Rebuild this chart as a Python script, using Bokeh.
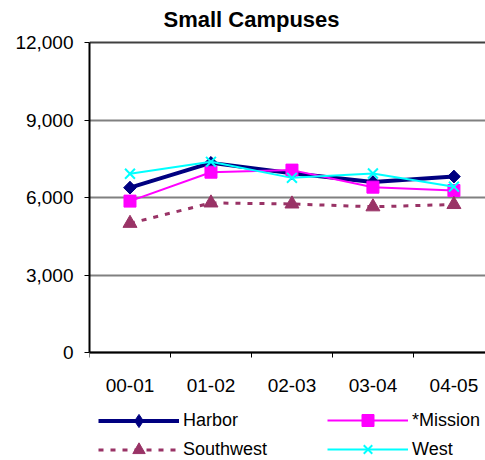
import math
from bokeh.plotting import figure
from bokeh.models import Range1d, FixedTicker, Legend, LegendItem, NumeralTickFormatter, Label
from bokeh.embed import file_html
from bokeh.resources import INLINE

categories = ["00-01", "01-02", "02-03", "03-04", "04-05"]
harbor = [6380, 7340, 6940, 6600, 6810]
mission = [5860, 6980, 7060, 6400, 6270]
southwest = [5000, 5790, 5750, 5640, 5730]
west = [6920, 7380, 6760, 6930, 6420]
y_ticks = [0, 3000, 6000, 9000, 12000]
title_text = "Small Campuses"

FONT = "Liberation Sans"
xs = [i + 0.5 for i in range(len(categories))]
bounds = list(range(len(categories) + 1))

# layout: value axis spans 310 px (0..12000), from 42 px to 352 px from the top;
# the frame covers the whole height so title and legend can sit inside it
W, H = 485, 460
Y_TOP = 12000
PX_PER_UNIT = 310 / Y_TOP
y_start = -(H - 352) / PX_PER_UNIT
y_end = Y_TOP + 42 / PX_PER_UNIT

p = figure(width=W, height=H, output_backend="svg", toolbar_location=None,
           title=None,
           x_range=Range1d(0, 4.89), y_range=Range1d(y_start, y_end),
           min_border_left=89, min_border_top=0, min_border_bottom=0,
           min_border_right=0)
p.outline_line_color = None
p.background_fill_color = "white"
p.border_fill_color = "white"

# title
p.add_layout(Label(x=163 - 89, y=H - 19, x_units="screen", y_units="screen",
                   text=title_text, text_font=FONT, text_font_size="22px",
                   text_font_style="bold", text_color="black",
                   text_baseline="alphabetic", text_align="left"))

# grids
p.xgrid.grid_line_color = None
p.ygrid.ticker = FixedTicker(ticks=y_ticks[:-1])
p.ygrid.grid_line_color = "#808080"
p.ygrid.grid_line_width = 2
p.hspan(y=[Y_TOP], line_color="#404040", line_width=2)

# y axis
p.yaxis.ticker = FixedTicker(ticks=y_ticks)
p.yaxis.bounds = (0, Y_TOP)
p.yaxis.formatter = NumeralTickFormatter(format="0,0")
p.yaxis.axis_line_width = 2
p.yaxis.axis_line_color = "black"
p.yaxis.major_tick_out = 5
p.yaxis.major_tick_in = 0
p.yaxis.major_tick_line_color = "black"
p.yaxis.minor_tick_line_color = None
p.yaxis.major_label_standoff = 11
p.yaxis.major_label_text_font = FONT
p.yaxis.major_label_text_font_size = "19px"
p.yaxis.major_label_text_color = "black"

# x axis (sits at y = 0 inside the frame)
p.xaxis.fixed_location = 0
p.xaxis.ticker = FixedTicker(ticks=xs, minor_ticks=bounds)
p.xaxis.major_label_overrides = {x: c for x, c in zip(xs, categories)}
p.xaxis.axis_line_width = 2
p.xaxis.axis_line_color = "black"
p.xaxis.major_tick_line_color = None
p.xaxis.major_tick_out = 5
p.xaxis.major_tick_in = 0
p.xaxis.minor_tick_line_color = "black"
p.xaxis.minor_tick_out = 5
p.xaxis.minor_tick_in = 0
p.xaxis.major_label_standoff = 21
p.xaxis.major_label_text_font = FONT
p.xaxis.major_label_text_font_size = "19px"
p.xaxis.major_label_text_color = "black"

# series
l_h = p.line(xs, harbor, line_color="#000080", line_width=4)
k_h = p.scatter(xs, harbor, marker="diamond", size=12,
                fill_color="#000080", line_color="#000080")
m_h = p.scatter(xs, harbor, marker="square", angle=math.pi / 4, size=9,
                fill_color="#000080", line_color="#000080")
l_m = p.line(xs, mission, line_color="#FF00FF", line_width=2)
m_m = p.scatter(xs, mission, marker="square", size=12,
                fill_color="#FF00FF", line_color="#FF00FF")
l_s = p.line(xs, southwest, line_color="#993366", line_width=3, line_dash="5 7")
m_s = p.scatter(xs, southwest, marker="triangle", size=14,
                fill_color="#993366", line_color="#993366")
l_w = p.line(xs, west, line_color="#00FFFF", line_width=2)
m_w = p.scatter(xs, west, marker="x", size=14, line_color="#00FFFF", line_width=2)

# legend: one small legend per entry (2 x 2 grid below the axis)
# (label, renderers, column x from frame left, row centre in px from top, glyph box height)
entries = [
    ("Harbor", [l_h, k_h], 9, 420, 33),
    ("*Mission", [l_m, m_m], 238, 420, 30),
    ("Southwest", [l_s, m_s], 9, 449, 31),
    ("West", [l_w, m_w], 238, 449, 30),
]
for label, rends, vx, cy, g in entries:
    lg = Legend(items=[LegendItem(label=label, renderers=rends)],
                location=(vx, H - (cy + g / 2)))
    lg.label_text_font = FONT
    lg.label_text_font_size = "18px"
    lg.label_text_color = "black"
    lg.glyph_width = 81
    lg.glyph_height = g
    lg.label_height = g
    lg.label_standoff = 4
    lg.padding = 0
    lg.margin = 0
    lg.border_line_color = None
    lg.background_fill_alpha = 0
    p.add_layout(lg, "center")

open("out.html", "w").write(file_html(p, INLINE))
